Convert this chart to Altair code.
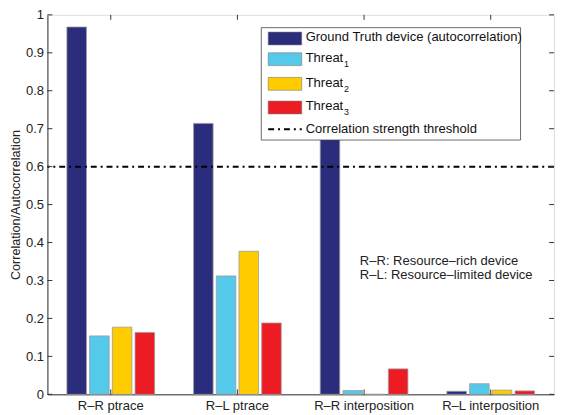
import altair as alt
import pandas as pd

categories = ["R–R ptrace", "R–L ptrace", "R–R interposition", "R–L interposition"]
series = ["Ground Truth device (autocorrelation)", "Threat1", "Threat2", "Threat3"]
ground_truth = [0.968, 0.714, 0.70, 0.008]
threat1 = [0.154, 0.312, 0.010, 0.028]
threat2 = [0.177, 0.377, 0.0, 0.011]
threat3 = [0.163, 0.188, 0.067, 0.009]
threshold = 0.6
y_ticks = [0, 0.1, 0.2, 0.3, 0.4, 0.5, 0.6, 0.7, 0.8, 0.9, 1]
colors = ["#2b2c7c", "#55c9ea", "#ffcc00", "#ed1c24"]
legend_labels = ["Ground Truth device (autocorrelation)", "Threat", "Threat", "Threat"]
legend_subs = ["", "1", "2", "3"]
threshold_label = "Correlation strength threshold"
note_lines = ["R–R: Resource–rich device", "R–L: Resource–limited device"]

FONT = "Liberation Sans"
FS = 13.2
W, H = 514, 385
AX = "#333333"

rows = []
for name, vals in zip(series, [ground_truth, threat1, threat2, threat3]):
    for c, v in zip(categories, vals):
        rows.append({"category": c, "series": name, "value": v})
df = pd.DataFrame(rows)

x_axis = alt.Axis(title=None, labelAngle=0, ticks=False, domainColor=AX, labelPadding=5,
                  labelFont=FONT, labelFontSize=FS, labelColor="#222222", grid=False)
x_scale = alt.Scale(domain=categories, paddingInner=0.3077, paddingOuter=0.1538)
y_axis = alt.Axis(title="Correlation/Autocorrelation", values=y_ticks, format="~g", grid=False,
                  ticks=False, domainColor=AX, labelPadding=4, titlePadding=3,
                  labelFont=FONT, labelFontSize=FS, labelColor="#222222",
                  titleFont=FONT, titleFontSize=12.8, titleFontWeight="normal", titleColor="#222222")
y_scale = alt.Scale(domain=[0, 1], nice=False, zero=True)

X = alt.X("category:N", sort=categories, scale=x_scale, axis=x_axis)
Y = alt.Y("value:Q", scale=y_scale, axis=y_axis)

bars = alt.Chart(df).mark_bar(stroke="#9a9a9a", strokeWidth=0.8).encode(
    x=X,
    xOffset=alt.XOffset("series:N", sort=series, scale=alt.Scale(domain=series, paddingInner=0.14, paddingOuter=0)),
    y=Y,
    color=alt.Color("series:N", scale=alt.Scale(domain=series, range=colors), legend=None),
)

thr = alt.Chart(pd.DataFrame({"value": [threshold]})).mark_rule(
    color="black", strokeWidth=2, strokeDash=[6, 4, 2, 4]).encode(y=Y)

tick_df = pd.DataFrame({"value": y_ticks})
yt_left = alt.Chart(tick_df).mark_rule(color=AX, strokeWidth=1).encode(y=Y, x=alt.value(0), x2=alt.value(5))
yt_right = alt.Chart(tick_df).mark_rule(color=AX, strokeWidth=1).encode(y=Y, x=alt.value(W - 5), x2=alt.value(W))
cat_df = pd.DataFrame({"category": categories})
XC = alt.X("category:N", sort=categories, scale=x_scale, axis=x_axis, bandPosition=0.5)
xt_bot = alt.Chart(cat_df).mark_rule(color=AX, strokeWidth=1).encode(x=XC, y=alt.value(H - 5), y2=alt.value(H))
xt_top = alt.Chart(cat_df).mark_rule(color=AX, strokeWidth=1).encode(x=XC, y=alt.value(0), y2=alt.value(5))

one = alt.Data(values=[{"a": 1}])
layers = [bars, thr, yt_left, yt_right, xt_bot, xt_top]

# legend box
lx0, lx1, ly0, ly1 = 217, 480, 13, 127
layers.append(alt.Chart(one).mark_rect(fill="white", stroke="#444444", strokeWidth=0.8).encode(
    x=alt.value(lx0), x2=alt.value(lx1), y=alt.value(ly0), y2=alt.value(ly1)))
row_y = [24, 45, 70, 94]
for i, (lab, sub, col) in enumerate(zip(legend_labels, legend_subs, colors)):
    yc = row_y[i]
    layers.append(alt.Chart(one).mark_rect(fill=col, stroke="#777777", strokeWidth=0.6).encode(
        x=alt.value(224), x2=alt.value(258), y=alt.value(yc - 6.5), y2=alt.value(yc + 6.5)))
    layers.append(alt.Chart(one).mark_text(text=lab, align="left", baseline="middle", font=FONT,
                                           fontSize=FS, color="#111111").encode(
        x=alt.value(262), y=alt.value(yc - 1)))
    if sub:
        layers.append(alt.Chart(one).mark_text(text=sub, align="left", baseline="middle", font=FONT,
                                               fontSize=9, color="#111111").encode(
            x=alt.value(301), y=alt.value(yc + 5)))
ty = 116
layers.append(alt.Chart(one).mark_rule(color="black", strokeWidth=2, strokeDash=[6, 4, 2, 4]).encode(
    x=alt.value(224), x2=alt.value(258), y=alt.value(ty)))
layers.append(alt.Chart(one).mark_text(text=threshold_label, align="left", baseline="middle", font=FONT,
                                       fontSize=FS, color="#111111").encode(
    x=alt.value(262), y=alt.value(ty)))

for j, line in enumerate(note_lines):
    layers.append(alt.Chart(one).mark_text(text=line, align="left", baseline="middle", font=FONT,
                                           fontSize=FS, color="#222222").encode(
        x=alt.value(317), y=alt.value(250 + j * 14)))

chart = alt.layer(*layers).properties(
    width=W, height=H,
    autosize=alt.AutoSizeParams(type="none"),
    padding={"left": 40, "top": 4, "right": 3, "bottom": 17},
).configure_view(stroke=AX, strokeWidth=1).configure(background="white")

chart.save("out.html", embed_options={"renderer": "svg", "actions": False})
